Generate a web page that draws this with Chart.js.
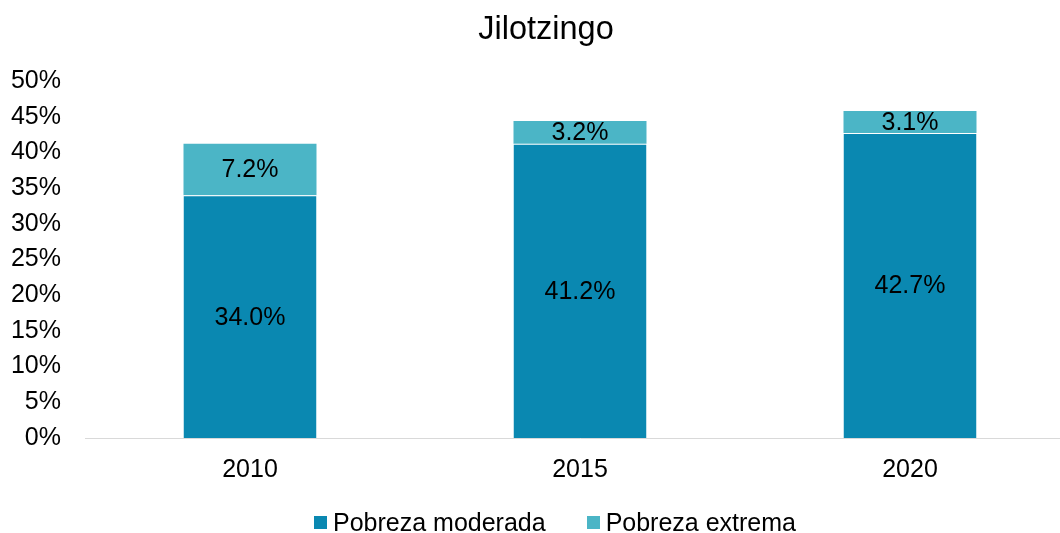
<!DOCTYPE html>
<html>
<head>
<meta charset="utf-8">
<script src="https://cdn.jsdelivr.net/npm/chart.js@4.4.1/dist/chart.umd.min.js"></script>
<style>
  html, body { margin: 0; padding: 0; background: #fff; }
  #wrap { width: 1060px; height: 533px; position: relative; overflow: hidden; }
  #inner { width: 1075px; height: 533px; position: relative; }
</style>
</head>
<body>
<div id="wrap"><div id="inner"><canvas id="c"></canvas></div></div>
<script>
const years = ['2010', '2015', '2020'];
const pobrezaModerada = [34.0, 41.2, 42.7];
const pobrezaExtrema = [7.2, 3.2, 3.1];
const yTicks = [0, 5, 10, 15, 20, 25, 30, 35, 40, 45, 50];
const chartTitle = 'Jilotzingo';

const FONT = "'Liberation Sans', Arial, sans-serif";

// Writes each segment's value in the middle of its bar piece
const segmentLabels = {
  id: 'segmentLabels',
  afterDatasetsDraw(chart) {
    const ctx = chart.ctx;
    ctx.save();
    ctx.font = '25px ' + FONT;
    ctx.fillStyle = '#000';
    ctx.textAlign = 'center';
    ctx.textBaseline = 'middle';
    chart.data.datasets.forEach((ds, di) => {
      chart.getDatasetMeta(di).data.forEach((bar, i) => {
        const y = (bar.y + bar.base) / 2;
        ctx.fillText(ds.data[i].toFixed(1) + '%', bar.x, y + 1);
      });
    });
    ctx.restore();
  }
};

// Title above the plot and a compact legend row under the axis
const titleAndLegend = {
  id: 'titleAndLegend',
  afterDraw(chart) {
    const ctx = chart.ctx;
    ctx.save();
    ctx.fillStyle = '#000';
    ctx.font = '32.5px ' + FONT;
    ctx.textAlign = 'center';
    ctx.textBaseline = 'alphabetic';
    ctx.fillText(chartTitle, 546, 39);

    ctx.font = '25px ' + FONT;
    ctx.textAlign = 'left';
    ctx.textBaseline = 'middle';
    const box = 13, gapBox = 6, gapItem = 41, cy = 523;
    const items = chart.data.datasets.map(ds => ({
      text: ds.label, color: ds.backgroundColor, w: box + gapBox + ctx.measureText(ds.label).width
    }));
    const total = items.reduce((s, it) => s + it.w, 0) + gapItem * (items.length - 1);
    let x = 555 - total / 2;
    items.forEach(it => {
      ctx.fillStyle = it.color;
      ctx.fillRect(Math.round(x), cy - 7, box, box);
      ctx.fillStyle = '#000';
      ctx.fillText(it.text, x + box + gapBox, cy + 1);
      x += it.w + gapItem;
    });
    ctx.restore();
  }
};

new Chart(document.getElementById('c'), {
  type: 'bar',
  data: {
    labels: years,
    datasets: [
      {
        label: 'Pobreza moderada',
        data: pobrezaModerada,
        backgroundColor: '#0A88B1',
        borderColor: '#ffffff',
        borderWidth: { top: 1, left: 0, right: 0, bottom: 0 },
        borderSkipped: false,
        categoryPercentage: 1,
        barPercentage: 0.403
      },
      {
        label: 'Pobreza extrema',
        data: pobrezaExtrema,
        backgroundColor: '#4BB5C6',
        borderWidth: 0,
        categoryPercentage: 1,
        barPercentage: 0.403
      }
    ]
  },
  options: {
    responsive: true,
    maintainAspectRatio: false,
    animation: false,
    layout: { padding: { left: 0, right: 0, top: 81, bottom: 30 } },
    plugins: {
      title: { display: false },
      legend: { display: false },
      tooltip: { enabled: false }
    },
    scales: {
      x: {
        stacked: true,
        afterFit(scale) { scale.height = 65; },
        grid: { display: false, drawTicks: false },
        border: { display: true, color: '#D9D9D9', width: 1 },
        ticks: {
          color: '#000',
          font: { family: FONT, size: 25 },
          padding: 17
        }
      },
      y: {
        stacked: true,
        min: 0,
        max: 50,
        afterFit(scale) { scale.width = 85; },
        afterBuildTicks(scale) { scale.ticks = yTicks.map(v => ({ value: v })); },
        grid: { display: false, drawTicks: false },
        border: { display: false },
        ticks: {
          color: '#000',
          font: { family: FONT, size: 25 },
          padding: 24,
          callback: v => v + '%'
        }
      }
    }
  },
  plugins: [segmentLabels, titleAndLegend]
});
</script>
</body>
</html>
